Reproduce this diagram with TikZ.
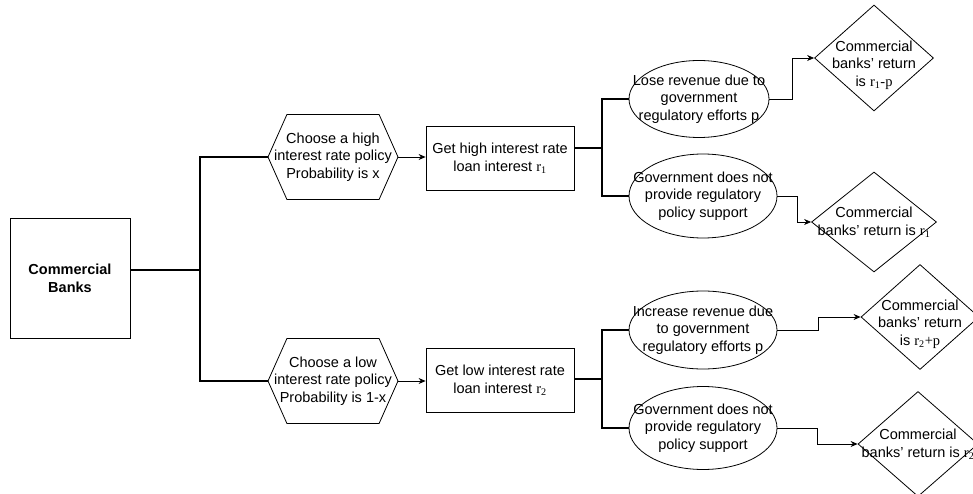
\documentclass[tikz,border=0pt]{standalone}
\usepackage{fontspec}
\setmainfont{Liberation Sans}
\newfontfamily\srf{Liberation Serif}
\usetikzlibrary{shapes.geometric,shapes.symbols,arrows.meta}
\newcommand{\fs}{\fontsize{14.5}{17.7}\selectfont}
\newcommand{\rsub}[1]{{\srf r\textsubscript{#1}}}

\begin{document}
\begin{tikzpicture}[x=1pt,y=-1pt,font=\fs,
  every node/.style={align=center,inner sep=0pt},
  txt/.style={align=center,inner sep=0pt},
  box/.style={draw,line width=0.8pt,minimum width=148pt,minimum height=64pt},
  hexa/.style={draw,line width=0.8pt,signal,signal to=west and east,signal pointer angle=132,minimum width=130pt,minimum height=85pt},
  oval/.style={draw,line width=0.8pt,ellipse,minimum width=148pt,minimum height=80pt},
  dia/.style={draw,line width=0.8pt,diamond,minimum width=120pt,minimum height=105pt},
  link/.style={line width=1.6pt},
  arr/.style={line width=0.8pt,-{Stealth[length=7pt,width=6pt]}}]
\useasboundingbox (0,0) rectangle (973,494);
\clip (0,0) rectangle (973,494);

\node[box,font=\fs\bfseries,minimum width=120pt,minimum height=120pt] (banks) at (70,278) {Commercial\\Banks};

\node[hexa,label={[txt]center:{Choose a high\\interest rate policy\\Probability is x}}] (hex1) at (333,157) {};
\node[hexa,label={[txt]center:{Choose a low\\interest rate policy\\Probability is 1-x}}] (hex2) at (333,381) {};

\node[box] (r1) at (500,158) {Get high interest rate\\loan interest \rsub{1}};
\node[box] (r2) at (500,380) {Get low interest rate\\loan interest \rsub{2}};

\node[oval,minimum width=140pt,minimum height=77pt,label={[txt]center:{Lose revenue due to\\government\\regulatory efforts p}}] (e1) at (699,99) {};
\node[oval,minimum height=84pt,label={[txt]center:{Government does not\\provide regulatory\\policy support}}] (e2) at (703,196) {};
\node[oval,minimum height=78pt,label={[txt]center:{Increase revenue due\\to government\\regulatory efforts p}}] (e3) at (703,330) {};
\node[oval,minimum height=83pt,label={[txt]center:{Government does not\\provide regulatory\\policy support}}] (e4) at (703,428) {};

\node[dia,minimum width=119pt,minimum height=106pt,label={[txt,yshift=-7pt]center:{Commercial\\banks' return\\is {\srf r\textsubscript{1}-p}}}] (d1) at (874,58) {};
\node[dia,minimum width=125pt,minimum height=100pt,label={[txt]center:{Commercial\\banks' return is \rsub{1}}}] (d2) at (874,222) {};
\node[dia,minimum width=118pt,label={[txt,yshift=-7pt]center:{Commercial\\banks' return\\is {\srf r\textsubscript{2}+p}}}] (d3) at (920,317) {};
\node[dia,label={[txt]center:{Commercial\\banks' return is \rsub{2}}}] (d4) at (918,444) {};

% junctions
\coordinate (j0) at (200,270);
\coordinate (j1) at (602,148);
\coordinate (j2) at (602,379);

\draw[link] (banks.east |- j0) -- (j0);
\draw[link] (hex1.west) -| (j0) |- (hex2.west);
\draw[arr] (hex1.east) -- (hex1.east -| r1.west);
\draw[arr] (hex2.east) -- (hex2.east -| r2.west);

\draw[link] (r1.east |- j1) -- (j1);
\draw[link] (e1.west) -| (j1) |- (e2.west);
\draw[link] (r2.east |- j2) -- (j2);
\draw[link] (e3.west) -| (j2) |- (e4.west);

\draw[arr] (e1.east) -- ++(23,0) |- (d1.west);
\draw[arr] (e2.east) -- ++(20,0) |- (d2.west);
\draw[arr] (e3.east) -- ++(41,0) |- (d3.west);
\draw[arr] (e4.east) -- ++(40,0) |- (d4.west);
\end{tikzpicture}
\end{document}
